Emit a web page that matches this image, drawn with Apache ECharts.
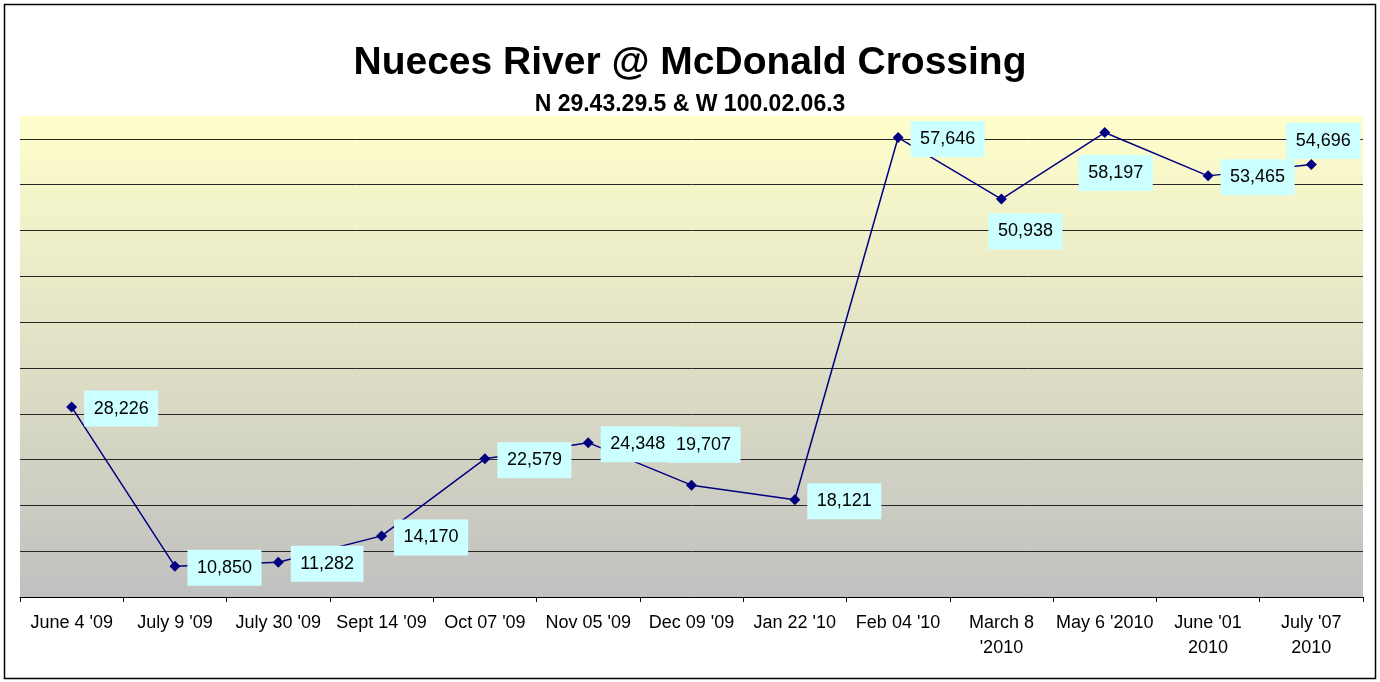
<!DOCTYPE html>
<html>
<head>
<meta charset="utf-8">
<script src="https://cdn.jsdelivr.net/npm/echarts@6/dist/echarts.min.js"></script>
<style>
html,body{margin:0;padding:0;background:#fff;}
#chart{width:1380px;height:682px;}
</style>
</head>
<body>
<div id="chart"></div>
<script>
const categories = ["June 4 '09", "July 9 '09", "July 30 '09", "Sept 14 '09", "Oct 07 '09", "Nov 05 '09", "Dec 09 '09", "Jan 22 '10", "Feb 04 '10", "March 8\n'2010", "May 6 '2010", "June '01\n2010", "July '07\n2010"];
const values = [28226, 10850, 11282, 14170, 22579, 24348, 19707, 18121, 57646, 50938, 58197, 53465, 54696];
const labelPlacement = ["right", "right", "right", "right", "right", "right", "top", "right", "right", "bottom", "bottom", "right", "top"];
const titleText = "Nueces River @ McDonald Crossing";
const subtitleText = "N 29.43.29.5 & W 100.02.06.3";

const FONT = 'Liberation Sans, Arial, sans-serif';
const labelDistance = [7, 7, 7, 7, 7, 7, 17, 7, 7, 9, 17, 7, 0];
const labelShiftX = [0, 0, 0, 0, 0, 0, 12, 0, 0, 24, 11, 0, 12];
const labelShiftY = [1.5, 1.5, 1.5, 1.5, 1.5, 1.5, 0, 1.5, 1.5, 0, 0, 1.5, 0];

const seriesData = values.map((v, i) => ({
  value: v,
  label: { position: labelPlacement[i], distance: labelDistance[i] }
}));

const gridColors = [];
for (let i = 0; i < 11; i++) gridColors.push('#262626');
gridColors.push('rgba(0,0,0,0)');

const chart = echarts.init(document.getElementById('chart'));
chart.setOption({
  animation: false,
  backgroundColor: '#fff',
  textStyle: { fontFamily: FONT },
  title: [
    { text: titleText, left: 'center', top: 39, textStyle: { fontSize: 39, fontWeight: 'bold', color: '#000', fontFamily: FONT } },
    { text: subtitleText, left: 'center', top: 88, textStyle: { fontSize: 23, fontWeight: 'bold', color: '#000', fontFamily: FONT } }
  ],
  graphic: [
    { type: 'rect', shape: { x: 4.5, y: 4.5, width: 1371, height: 674 }, style: { fill: 'none', stroke: '#000', lineWidth: 1.5 }, z: 100 }
  ],
  grid: {
    left: 20, right: 17, top: 116, bottom: 85,
    show: true, borderWidth: 0,
    backgroundColor: new echarts.graphic.LinearGradient(0, 0, 0, 1, [
      { offset: 0, color: '#FFFFCC' },
      { offset: 1, color: '#C0C0C0' }
    ])
  },
  xAxis: {
    type: 'category',
    data: categories,
    boundaryGap: true,
    axisLine: { show: true, lineStyle: { color: '#000', width: 1 } },
    axisTick: { show: true, length: 5, lineStyle: { color: '#000' } },
    axisLabel: { color: '#000', fontSize: 18, margin: 14, lineHeight: 25, interval: 0, fontFamily: FONT },
    splitLine: { show: false }
  },
  yAxis: {
    type: 'value',
    min: 7500, max: 60000, interval: 5000,
    axisLine: { show: false },
    axisTick: { show: false },
    axisLabel: { show: false },
    splitLine: { show: true, lineStyle: { color: gridColors, width: 1 } }
  },
  series: [{
    type: 'line',
    data: seriesData,
    symbol: 'diamond',
    symbolSize: 11,
    itemStyle: { color: '#000080' },
    lineStyle: { color: '#000080', width: 1.5 },
    label: {
      show: true,
      formatter: p => p.value.toLocaleString('en-US'),
      backgroundColor: '#CCFFFF',
      padding: [9, 9.5, 9, 9.5],
      lineHeight: 18,
      color: '#000',
      fontSize: 18,
      fontFamily: FONT
    },
    labelLayout: p => ({ dx: labelShiftX[p.dataIndex], dy: labelShiftY[p.dataIndex], hideOverlap: false }),
    z: 5
  }]
});
</script>
</body>
</html>
